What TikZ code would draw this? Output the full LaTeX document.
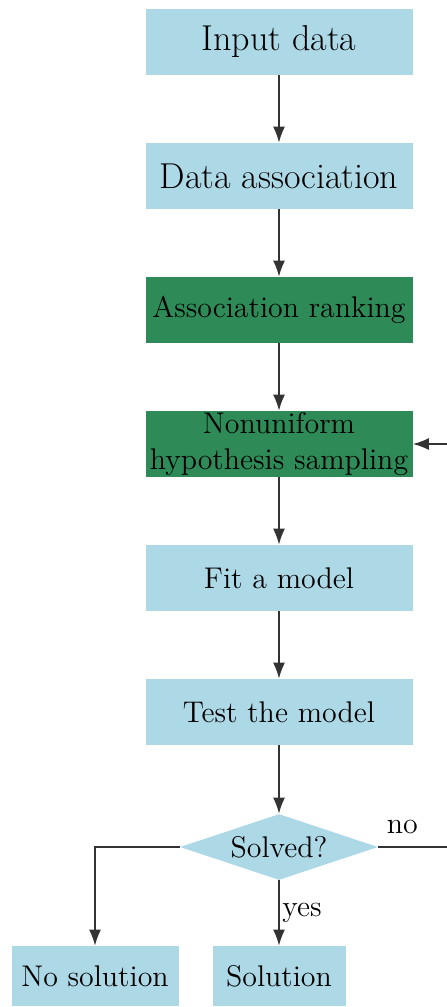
\documentclass[tikz,border=0pt]{standalone}
\usepackage{tikz}
\usetikzlibrary{arrows.meta, positioning, shapes.geometric}
\definecolor{paleblue}{HTML}{ADD8E6}
\definecolor{seagreen}{HTML}{2E8B57}

\begin{document}
\begin{tikzpicture}[
  node distance=67pt, on grid,
  every node/.style={font=\fontsize{14.95}{18}\selectfont},
  stage/.style={rectangle, fill=paleblue, minimum width=133.5pt, minimum height=33pt, align=center, inner sep=0pt},
  bigstage/.style={stage, font=\fontsize{18}{21}\selectfont},
  ranked/.style={stage, fill=seagreen},
  decision/.style={diamond, fill=paleblue, aspect=3, minimum width=99pt, minimum height=33pt, inner sep=0pt},
  outcome/.style={rectangle, fill=paleblue, minimum height=30pt, inner sep=0pt},
  flow/.style={draw, line width=0.7pt, black!80, -{Latex[length=8pt,width=6pt]}}
]
\useasboundingbox (0,0) rectangle (223pt,-503.5pt);

% Pipeline
\node[bigstage] (input) at (139.5pt,-21pt) {Input data};
\node[bigstage, below=of input] (assoc) {Data association};
\node[ranked, below=of assoc] (rank) {Association ranking};
\node[ranked, below=of rank] (sample) {Nonuniform\\hypothesis sampling};
\node[stage, below=of sample] (fit) {Fit a model};
\node[stage, below=of fit] (test) {Test the model};
\node[decision, below=67.5pt of test] (solved) {Solved?};

% Outcomes
\node[outcome, minimum width=66.5pt, below=64.5pt of solved] (sol) {Solution};
\node[outcome, minimum width=83.5pt, left=92pt of sol] (nosol) {No solution};
\coordinate[right=40pt of solved.east] (loop);

% Arrows
\draw[flow] (input) -- (assoc);
\draw[flow] (assoc) -- (rank);
\draw[flow] (rank) -- (sample);
\draw[flow] (sample) -- (fit);
\draw[flow] (fit) -- (test);
\draw[flow] (test) -- (solved);
\draw[flow] (solved) -- node[right, xshift=-2pt, black] {yes} (sol);
\draw[flow] (solved.west) -| (nosol.north);
\draw[flow] (solved.east) -- node[above, pos=0.3, yshift=3pt, black] {no} (loop) |- (sample.east);

\end{tikzpicture}
\end{document}
